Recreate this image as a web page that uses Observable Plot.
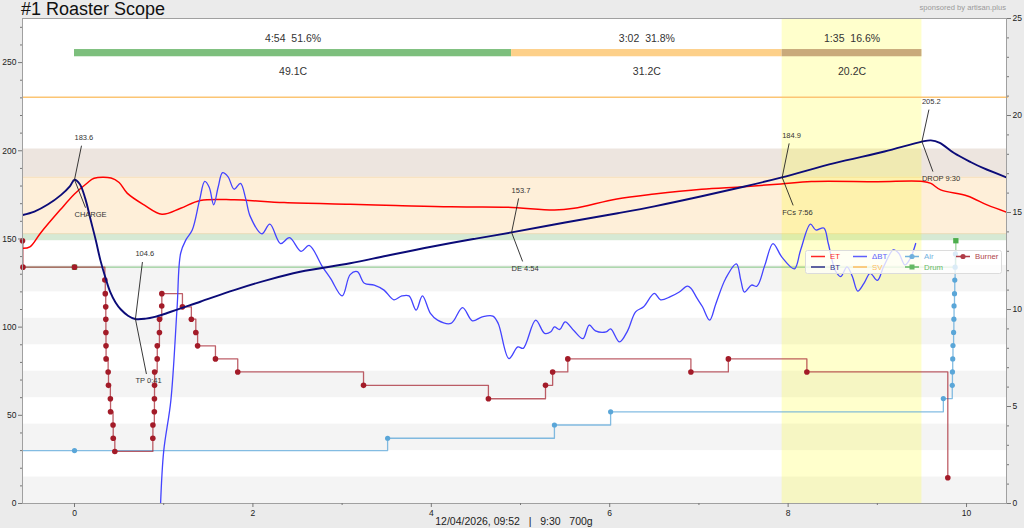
<!DOCTYPE html>
<html>
<head>
<meta charset="utf-8">
<script src="https://cdn.jsdelivr.net/npm/d3@7"></script>
<script src="https://cdn.jsdelivr.net/npm/@observablehq/plot@0.6"></script>
<style>
  html, body { margin: 0; padding: 0; background: #ebebeb; }
  #wrap { position: relative; width: 1024px; height: 528px; background: #ebebeb; overflow: hidden;
          font-family: "Liberation Sans", Arial, sans-serif; }
  #title { position: absolute; left: 21px; top: 0px; font-size: 18px; line-height: 1; color: #111; white-space: pre; }
  #sponsor { position: absolute; right: 18px; top: 4px; font-size: 7.6px; line-height: 1; color: #9a9a9a; }
  #caption { position: absolute; left: 22px; width: 984px; top: 516px; text-align: center; font-size: 10.5px;
             line-height: 1; color: #222; white-space: pre; }
  #legend { position: absolute; left: 805px; top: 250px; }
  #chart { position: absolute; left: 0; top: 0; }
</style>
</head>
<body>
<div id="wrap">
  <div id="chart"></div>
  <div id="title">#1 Roaster Scope</div>
  <div id="sponsor">sponsored by artisan.plus</div>
  <div id="caption">12/04/2026, 09:52   |   9:30   700g</div>
  <div id="legend"></div>
</div>
<script>
// ---------------- DATA ----------------
// Bean temperature (BT), time in minutes from CHARGE, °C
const btTime = [-0.58,-0.45,-0.3,-0.15,-0.05,0,0.06,0.12,0.18,0.24,0.29,0.35,0.40,0.46,0.52,0.6,0.68,0.8,0.9,1.04,1.41,1.79,2.16,2.53,3.09,3.5,4.0,4.5,4.9,5.5,6.09,6.5,7.03,7.5,7.93,8.52,9.08,9.5,9.6,9.7,9.86,10.05,10.19,10.46];
const btTemp = [163.6,165.5,169.5,175,180,183.6,181,173,161,149,138,127.5,120,114,110,106.5,104.6,104.8,105.8,108,114.4,121,126.7,131.4,136.2,140.5,145.6,150.2,153.7,159.3,164.6,168.5,174.2,179.6,184.9,193,199.6,205.2,205.9,204.5,198.7,193.5,190.1,184.7];

// Environment temperature (ET)
const etTime = [-0.58,-0.5,-0.38,-0.16,0,0.14,0.22,0.41,0.5,0.59,0.78,0.98,1.19,1.41,1.79,2.35,3.09,3.6,4.22,4.86,5.38,5.6,6.08,6.5,7.03,7.5,7.92,8.26,9.0,9.51,9.6,9.71,10.01,10.23,10.46];
const etTemp = [144.7,145.5,153.4,166.5,175.5,181.6,184.4,184.6,182,176,169.3,164,167.4,171.8,172.2,170.6,169.7,169,168.2,168,166.4,167.4,172.7,175.5,178.2,179.6,181.2,182.6,182.5,182.6,181.5,177.8,174.4,169.3,165];

// Rate of rise ΔBT (right axis, °C/min)
const rorTime = [0.965,1.0,1.08,1.15,1.19,1.25,1.32,1.40,1.46,1.51,1.56,1.61,1.66,1.72,1.79,1.86,1.92,1.97,2.1,2.19,2.31,2.41,2.54,2.63,2.78,2.87,3.0,3.09,3.17,3.25,3.36,3.47,3.58,3.67,3.75,3.83,3.9,3.99,4.07,4.22,4.35,4.46,4.57,4.69,4.75,4.87,4.97,5.03,5.17,5.27,5.34,5.38,5.44,5.5,5.6,5.7,5.77,5.84,5.96,6.01,6.11,6.2,6.29,6.38,6.5,6.57,6.68,6.78,6.87,6.91,6.98,7.04,7.12,7.19,7.3,7.42,7.47,7.51,7.59,7.65,7.74,7.83,7.93,8.07,8.14,8.25,8.31,8.4,8.45,8.53,8.59,8.66,8.72,8.78,8.85,8.92,9.0,9.07,9.18,9.24,9.31,9.37,9.43];
const rorValue = [0,2.7,5.3,10.1,12.9,13.6,14.1,15.6,16.6,16.3,15.4,16.3,17.05,16.85,16.2,16.5,15.7,14.8,13.9,14.4,13.4,13.7,13.0,13.3,12.2,11.6,10.7,11.8,11.95,11.35,11.26,11.0,10.5,10.7,10.7,9.97,10.7,9.8,9.45,9.28,10.1,9.42,9.62,9.66,9.28,7.47,8.07,8.0,9.45,8.77,8.85,9.1,8.97,9.36,8.9,8.5,9.2,8.9,8.85,9.0,8.33,8.9,9.88,10.14,10.83,10.5,10.66,10.9,11.2,11.1,10.57,10.14,9.45,10.3,11.6,12.35,11.5,10.9,11.26,11.2,12.3,13.4,12.7,12.1,13.07,14.4,14.1,14.2,13.4,12.0,11.7,12.2,11.7,10.95,11.35,11.86,11.5,12.2,13.07,12.9,12.3,12.64,13.4];

// SV (set value)
const svTime = [-0.58, 10.46];
const svValue = [230.4, 230.4];

// Special events (plotted on temperature axis)
const airTime  = [-0.58,0,3.51,5.38,6.01,9.74,9.84,9.842,9.845,9.848,9.855,9.858,9.86,9.865,9.868,9.872,9.875];
const airValue = [30,30,37,44.5,52,59.5,67,74.6,82,89.6,97,104.5,112,119,126.7,134,141.5];
const airMarked = [false,true,true,true,true,true,true,true,true,true,true,true,true,true,true,true,true];

const drumTime  = [-0.58, 0, 9.87, 9.88];
const drumValue = [134, 134, 134, 149];
const drumMarked = [false, true, false, true];

const burnerTime  = [-0.583,-0.578,0,0.34,0.345,0.35,0.351,0.352,0.353,0.354,0.377,0.381,0.402,0.404,0.432,0.434,0.452,0.878,0.879,0.895,0.896,0.897,0.898,0.927,0.928,0.952,0.953,0.978,0.979,1.21,1.31,1.36,1.38,1.58,1.83,3.24,4.64,5.28,5.36,5.53,6.91,7.33,8.21,9.79];
const burnerValue = [149,134,134,126.7,119,111.5,104.5,97,89.4,82,74.6,67,59.4,52,44.5,37,29.5,37,44.5,52,59.4,67,74.6,82,89.4,97,104.5,112,119,111.5,104.5,97,89.4,82,74.6,67,59.4,67,74.6,82,74.6,82,74.6,14.6];

// Roast events
const eventTime  = [0, 0.683, 4.9, 7.933, 9.5];
const eventTemp  = [183.6, 104.6, 153.7, 184.9, 205.2];
const eventLabel = ["CHARGE", "TP 0:41", "DE 4:54", "FCs 7:56", "DROP 9:30"];

// Phases
const phaseStart = [0, 4.9, 7.933];
const phaseEnd   = [4.9, 7.933, 9.5];
const phaseTop   = ["4:54  51.6%", "3:02  31.8%", "1:35  16.6%"];
const phaseBottom = ["49.1C", "31.2C", "20.2C"];

// Background bands (°C)
const stripeLow = [0, 30, 60, 90, 120];
const stripeHigh = [15, 45, 75, 105, 135];
const zoneLow  = [149, 153, 185];
const zoneHigh = [153, 185, 201];

// Axis ticks
const leftTicks = [0, 50, 100, 150, 200, 250];
const rightTicks = [0, 5, 10, 15, 20, 25];
const xTicks = [0, 2, 4, 6, 8, 10];
const xMinorTicks = [1, 3, 5, 7, 9];

// ---------------- LAYOUT / STYLE ----------------
const W = 1024, H = 528;
const M = {l: 22, r: 18, t: 18, b: 25};
const X_DOMAIN = [-0.583, 10.448];
const Y_DOMAIN = [0, 275];
const RIGHT_FACTOR = 11;               // 25 on the right axis = 275 on the left
const pxPerMin = (W - M.l - M.r) / (X_DOMAIN[1] - X_DOMAIN[0]);
const pxPerDeg = (H - M.t - M.b) / (Y_DOMAIN[1] - Y_DOMAIN[0]);
const annoValDy = [-42, -65, -42, -42, -40];
const annoLblDy = [35, 62, 36, 35, 37];

const C = {
  et: "#ff0000", bt: "#0b0b78", ror: "#4343ff", sv: "#fcc574",
  air: "#5aa6d8", drum: "#4cae4c", burner: "#a31b28",
  stripe: "#f4f4f4", zones: ["#d6e9d4", "#feefd9", "#ede5df"],
  phases: ["#7dbf7d", "#fdd089", "#c9aa7b"]
};
const FONT = '"Liberation Sans", Arial, sans-serif';

// ---------------- TABLES ----------------
const bt = btTime.map((t, i) => ({t, v: btTemp[i]}));
const et = etTime.map((t, i) => ({t, v: etTemp[i]}));
const ror = rorTime.map((t, i) => ({t, v: rorValue[i] * RIGHT_FACTOR}));
const sv = svTime.map((t, i) => ({t, v: svValue[i]}));
const air = airTime.map((t, i) => ({t, v: airValue[i], m: airMarked[i]}));
const drum = drumTime.map((t, i) => ({t, v: drumValue[i], m: drumMarked[i]}));
const burner = burnerTime.map((t, i) => ({t, v: burnerValue[i]}));
const stripes = stripeLow.map((y1, i) => ({y1, y2: stripeHigh[i]}));
const zones = zoneLow.map((y1, i) => ({y1, y2: zoneHigh[i], c: C.zones[i]}));
const phases = phaseStart.map((x1, i) => ({x1, x2: phaseEnd[i], c: C.phases[i],
  top: phaseTop[i].replace(/ /g, "\u00a0"), bottom: phaseBottom[i], mid: (x1 + phaseEnd[i]) / 2}));
const anno = eventTime.map((t, i) => {
  const v = eventTemp[i];
  return {
    t, v, val: v.toFixed(1), label: eventLabel[i],
    vy: v - annoValDy[i] / pxPerDeg,
    ly: v - annoLblDy[i] / pxPerDeg,
    tx: t + 7 / pxPerMin, ty: v - (annoValDy[i] + 8) / pxPerDeg,
    bx: t + 11 / pxPerMin, by: v - (annoLblDy[i] - 7) / pxPerDeg
  };
});
const fcToDrop = [{x1: eventTime[3], x2: eventTime[4]}];

const fullX1 = () => X_DOMAIN[0], fullX2 = () => X_DOMAIN[1];

const chart = Plot.plot({
  width: W, height: H,
  marginLeft: M.l, marginRight: M.r, marginTop: M.t, marginBottom: M.b,
  x: {domain: X_DOMAIN},
  y: {domain: Y_DOMAIN},
  style: {background: "transparent", fontFamily: FONT, fontSize: "8.5px", color: "#222", overflow: "visible"},
  marks: [
    Plot.frame({fill: "white", stroke: "none"}),
    Plot.rect(stripes, {x1: fullX1, x2: fullX2, y1: "y1", y2: "y2", fill: C.stripe}),
    Plot.rect(zones, {x1: fullX1, x2: fullX2, y1: "y1", y2: "y2", fill: "c"}),
    Plot.ruleY([zoneLow[1], zoneHigh[1]], {stroke: "#f3d9b0", strokeWidth: 0.8}),
    Plot.rect(fcToDrop, {x1: "x1", x2: "x2", y1: () => Y_DOMAIN[0], y2: () => Y_DOMAIN[1], fill: "#ffff00", fillOpacity: 0.2}),
    // phases bar
    Plot.rect(phases, {x1: "x1", x2: "x2", y1: () => 253.3, y2: () => 257.4, fill: "c"}),
    Plot.text(phases, {x: "mid", y: () => 263.6, text: "top", fontSize: 10.5, fill: "#333"}),
    Plot.text(phases, {x: "mid", y: () => 245, text: "bottom", fontSize: 10.5, fill: "#333"}),
    // SV
    Plot.line(sv, {x: "t", y: "v", stroke: C.sv, strokeWidth: 1.5}),
    // events
    Plot.line(air, {x: "t", y: "v", curve: "step-after", stroke: C.air, strokeOpacity: 0.75, strokeWidth: 1.3}),
    Plot.line(drum, {x: "t", y: "v", curve: "step-after", stroke: C.drum, strokeOpacity: 0.55, strokeWidth: 1.3}),
    Plot.dot(air.filter(d => d.m), {x: "t", y: "v", r: 2.6, fill: C.air}),
    Plot.dot(drum.filter(d => d.m), {x: "t", y: "v", symbol: "square", r: 3, fill: C.drum}),
    Plot.line(burner, {x: "t", y: "v", curve: "step-after", stroke: C.burner, strokeOpacity: 0.7, strokeWidth: 1.3}),
    Plot.dot(burner, {x: "t", y: "v", r: 2.8, fill: C.burner}),
    // curves
    Plot.line(et, {x: "t", y: "v", curve: "catmull-rom", stroke: C.et, strokeWidth: 1.5, clip: true}),
    Plot.line(ror, {x: "t", y: "v", curve: "catmull-rom", stroke: C.ror, strokeWidth: 1.3, clip: true}),
    Plot.line(bt, {x: "t", y: "v", curve: "catmull-rom", stroke: C.bt, strokeWidth: 1.9, clip: true}),
    // annotations
    Plot.link(anno, {x1: "t", y1: "v", x2: "tx", y2: "ty", stroke: "#222", strokeWidth: 0.9}),
    Plot.link(anno, {x1: "t", y1: "v", x2: "bx", y2: "by", stroke: "#222", strokeWidth: 0.9}),
    Plot.text(anno, {x: "t", y: "vy", text: "val", textAnchor: "start", fontSize: 7.5, fill: "#333"}),
    Plot.text(anno, {x: "t", y: "ly", text: "label", textAnchor: "start", fontSize: 7.5, fill: "#333"}),
    // axes
    Plot.frame({stroke: "#a0a0a0"}),
    Plot.axisY({ticks: leftTicks, tickSize: 4, tickPadding: 2, label: null, stroke: "#777"}),
    Plot.axisY({ticks: d3.range(0, 276, 10).filter(v => v % 50 !== 0), tickSize: 2, tickFormat: () => "", label: null, stroke: "#777"}),
    Plot.axisY({anchor: "right", ticks: rightTicks.map(v => v * RIGHT_FACTOR), tickFormat: d => String(Math.round(d / RIGHT_FACTOR)), tickSize: 4, tickPadding: 2, label: null, stroke: "#777"}),
    Plot.axisY({anchor: "right", ticks: d3.range(0, 26, 1).filter(v => v % 5 !== 0).map(v => v * RIGHT_FACTOR), tickSize: 2, tickFormat: () => "", label: null, stroke: "#777"}),
    Plot.axisX({ticks: xTicks, tickSize: 4, tickPadding: 2, label: null, stroke: "#777"}),
    Plot.axisX({ticks: xMinorTicks, tickSize: 2, tickFormat: () => "", label: null, stroke: "#777"})
  ]
});
document.getElementById("chart").appendChild(chart);

// ---------------- LEGEND ----------------
const legendItems = [
  {name: "ET", color: C.et, col: 0, row: 0, kind: "line"},
  {name: "BT", color: C.bt, col: 0, row: 1, kind: "line"},
  {name: "\u0394BT", color: C.ror, col: 1, row: 0, kind: "line"},
  {name: "SV", color: "#ffb347", col: 1, row: 1, kind: "line"},
  {name: "Air", color: C.air, col: 2, row: 0, kind: "circle"},
  {name: "Drum", color: C.drum, col: 2, row: 1, kind: "square"},
  {name: "Burner", color: C.burner, col: 3, row: 0, kind: "circle"}
];
const colX = [6, 48, 100, 151];
const lg = d3.create("svg").attr("width", 198).attr("height", 25)
  .style("font-family", FONT).style("font-size", "7.8px");
lg.append("rect").attr("x", 0.5).attr("y", 0.5).attr("width", 196).attr("height", 23).attr("rx", 2)
  .attr("fill", "white").attr("fill-opacity", 0.78).attr("stroke", "#dcdcdc");
for (const it of legendItems) {
  const x = colX[it.col], y = 6.5 + it.row * 10.5;
  const g = lg.append("g").attr("opacity", 0.85);
  g.append("line").attr("x1", x).attr("x2", x + 14).attr("y1", y).attr("y2", y)
    .attr("stroke", it.color).attr("stroke-width", 1.5);
  if (it.kind === "circle") g.append("circle").attr("cx", x + 7).attr("cy", y).attr("r", 2.6).attr("fill", it.color);
  if (it.kind === "square") g.append("rect").attr("x", x + 4.5).attr("y", y - 2.5).attr("width", 5).attr("height", 5).attr("fill", it.color);
  g.append("text").attr("x", x + 19).attr("y", y + 2.8).attr("fill", it.color).text(it.name);
}
document.getElementById("legend").appendChild(lg.node());
</script>
</body>
</html>
